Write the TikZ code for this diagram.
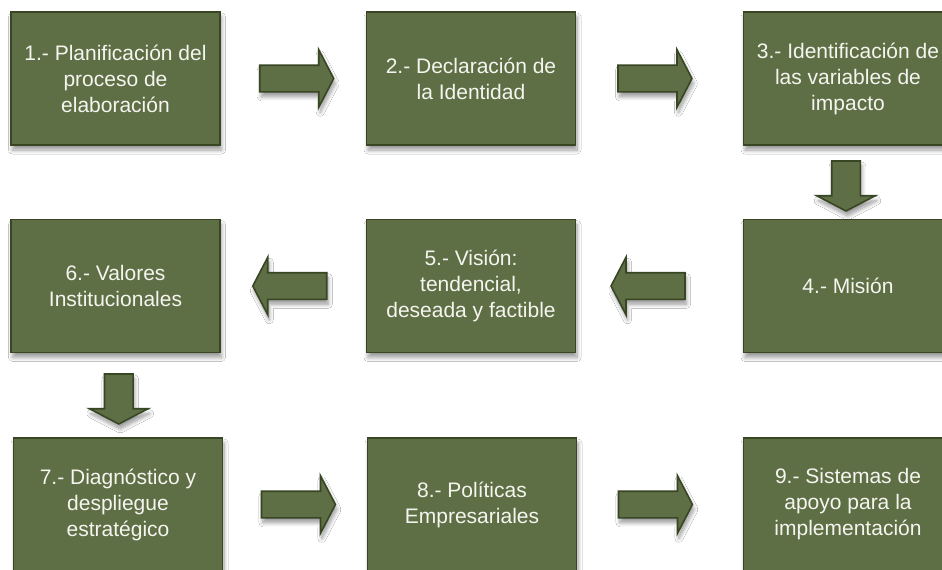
\documentclass[tikz,border=0pt]{standalone}
\usepackage{fontspec}
\setmainfont{Liberation Sans}
\usetikzlibrary{shapes.arrows,shadows.blur,calc}
\definecolor{olivefill}{RGB}{95,111,69}
\definecolor{oliveline}{RGB}{56,70,36}
\definecolor{boxtext}{RGB}{245,245,240}
\tikzset{
  softshadow/.style={blur shadow={shadow xshift=1.5pt, shadow yshift=-5pt, shadow blur steps=8, shadow opacity=40, shadow blur radius=4pt}},
  stepbox/.style={draw=oliveline, line width=1.8pt, fill=olivefill,
    minimum width=209pt, minimum height=133pt, text=boxtext,
    font=\fontsize{21}{26}\selectfont, align=center, inner sep=0pt, softshadow},
  blockarrow/.style={single arrow, draw=oliveline, line width=1.6pt, fill=olivefill,
    inner sep=0pt, single arrow tip angle=125, single arrow head indent=0pt, softshadow},
  harrow/.style={blockarrow, inner ysep=12.5pt, inner xsep=0pt, minimum height=74pt, single arrow head extend=15.5pt},
  varrow/.style={blockarrow, inner xsep=13.5pt, inner ysep=0pt, minimum height=50pt, single arrow head extend=15pt, shape border rotate=270},
}
\begin{document}
\begin{tikzpicture}[x=1pt,y=-1pt]
\useasboundingbox (0,0) rectangle (942,570);
\clip (0,0) rectangle (942,570);
\fill[white] (0,0) rectangle (942,570);

\node[stepbox] (b1) at (115.5,78.5) {1.- Planificación del\\proceso de\\elaboración};
\node[stepbox] (b2) at (471,78.5) {2.- Declaración de\\la Identidad};
\node[stepbox] (b3) at (848,78.5) {3.- Identificación de\\las variables de\\impacto};
\node[stepbox] (b4) at (848,286) {4.- Misión};
\node[stepbox] (b5) at (471,286) {5.- Visión:\\tendencial,\\deseada y factible};
\node[stepbox] (b6) at (115.5,286) {6.- Valores\\Institucionales};
\node[stepbox] (b7) at (118,504.5) {7.- Diagnóstico y\\despliegue\\estratégico};
\node[stepbox] (b8) at (472,504.5) {8.- Políticas\\Empresariales};
\node[stepbox] (b9) at (848,504.5) {9.- Sistemas de\\apoyo para la\\implementación};

\node[harrow] (a12) at ($(b1.east)!0.5!(b2.west)$) {};
\node[harrow] (a23) at ($(b2.east)!0.5!(b3.west)+(-8,0)$) {};
\node[varrow] (a34) at ($(b3.south)!0.5!(b4.north)+(-2,0)$) {};
\node[harrow, shape border rotate=180] (a45) at ($(b5.east)!0.5!(b4.west)+(-8,0)$) {};
\node[harrow, shape border rotate=180] (a56) at ($(b6.east)!0.5!(b5.west)$) {};
\node[varrow] (a67) at ($(b6.south)!0.5!(b7.north)+(2,0)$) {};
\node[harrow] (a78) at ($(b7.east)!0.5!(b8.west)$) {};
\node[harrow] (a89) at ($(b8.east)!0.5!(b9.west)+(-8,0)$) {};
\end{tikzpicture}
\end{document}
